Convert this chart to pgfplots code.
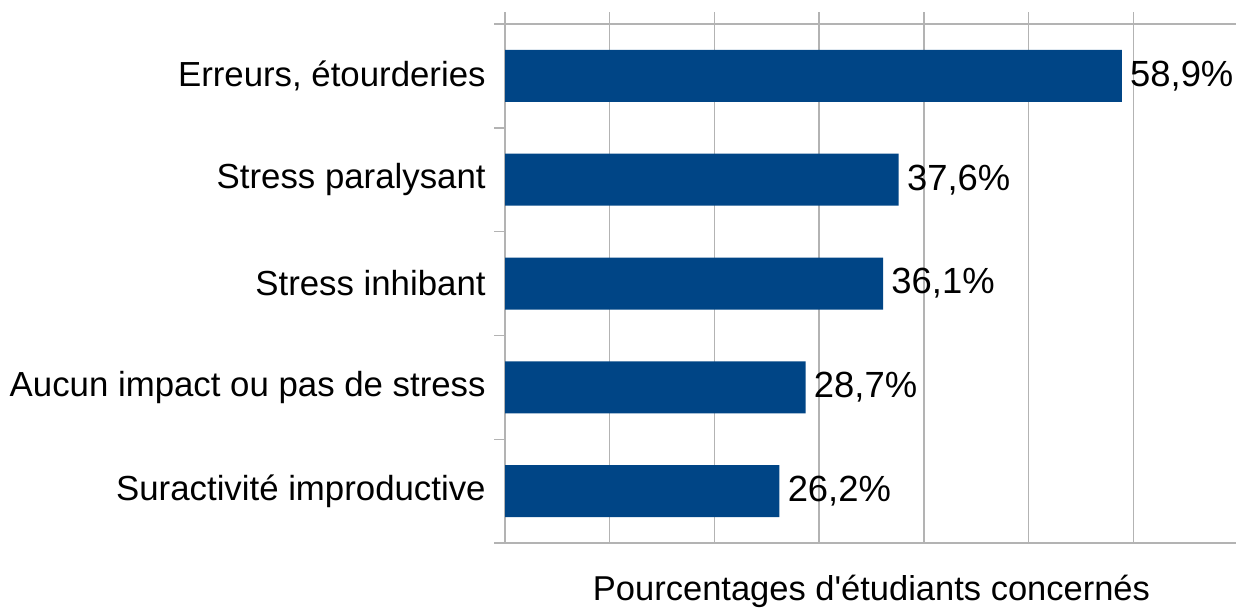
\documentclass[border=0pt]{standalone}
\usepackage{pgfplots}
\pgfplotsset{compat=1.18}
\usepackage{fontspec}
\setmainfont{Liberation Sans}
\definecolor{barblue}{HTML}{004586}
\definecolor{gridgray}{HTML}{B3B3B3}
\begin{document}
\begin{tikzpicture}
\useasboundingbox (0,0) rectangle (618pt,305pt);
\begin{axis}[
  at={(252.5pt,33.5pt)}, anchor=south west,
  scale only axis, width=366.5pt, height=259.5pt,
  xbar, bar width=26pt,
  xmin=0, xmax=70, ymin=-0.5, ymax=4.5, y dir=reverse,
  clip=false,
  xtick={0,10,...,70}, xticklabels={}, xtick pos=right,
  tick align=outside, major tick length=6pt, minor tick length=5.5pt,
  xmajorgrids,
  grid style={draw=gridgray, line width=0.7pt},
  axis line style={draw=gridgray, line width=0.7pt},
  every tick/.style={draw=gridgray, line width=0.7pt},
  ytick={0,1,2,3,4},
  yticklabels={{Erreurs, étourderies},{Stress paralysant},{Stress inhibant},{Aucun impact ou pas de stress},{Suractivité improductive}},
  major y tick style={draw=none},
  minor ytick={-0.5,0.5,1.5,2.5,3.5,4.5},
  minor y tick style={draw=gridgray, line width=0.7pt},
  ytick pos=left,
  yticklabel style={font=\fontsize{17.4}{20}\selectfont, inner sep=0pt, xshift=-3.5pt},
  xlabel={Pourcentages d\textquotesingle étudiants concernés},
  xlabel style={at={(axis description cs:0.5,0)}, anchor=base, yshift=-28.5pt, font=\fontsize{17.25}{20}\selectfont},
  point meta=explicit symbolic,
  nodes near coords,
  every node near coord/.append style={anchor=west, inner sep=0pt, xshift=4pt, font=\fontsize{18.2}{21}\selectfont, text=black},
]
\addplot[draw=none, fill=barblue] coordinates {
  (58.9,0) [58,9\%]
  (37.6,1) [37,6\%]
  (36.1,2) [36,1\%]
  (28.7,3) [28,7\%]
  (26.2,4) [26,2\%]
};
\end{axis}
\end{tikzpicture}
\end{document}
